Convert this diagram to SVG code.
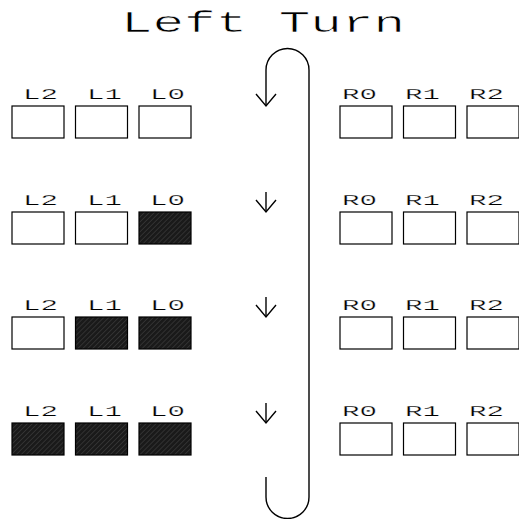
<svg xmlns="http://www.w3.org/2000/svg" width="519" height="519" viewBox="0 0 519 519">
<defs>
<pattern id="hatch" patternUnits="userSpaceOnUse" width="3.5" height="3.5" patternTransform="rotate(45)">
<rect width="3.5" height="3.5" fill="#1a1a1a"/>
<line x1="0" y1="0" x2="0" y2="3.5" stroke="#484848" stroke-width="1"/>
</pattern>
<g id="arrowhead"><path d="M-10,-12 L0,0 L10,-12" fill="none" stroke="#000" stroke-width="1.4"/></g>
</defs>
<style>
.box{fill:#fff;stroke:#000;stroke-width:1.2}
.on{fill:url(#hatch);stroke:#000;stroke-width:1.2}
.lbl{font-family:"Liberation Mono","DejaVu Sans Mono",monospace;font-size:15px;fill:#000;stroke:#fff;stroke-width:0.25px}
.title{font-family:"Liberation Mono","DejaVu Sans Mono",monospace;font-size:30px;fill:#000;stroke:#fff;stroke-width:0.6px}
.ln{fill:none;stroke:#000;stroke-width:1.4}
</style>
<rect width="519" height="519" fill="#fff"/>
<text class="title" x="121" y="32" textLength="284" lengthAdjust="spacingAndGlyphs">Left Turn</text>

<g id="connectors">
<path class="ln" d="M266,106 L266,70 A21.5,21.5 0 0 1 309,70 L309,497 A21.5,21.5 0 0 1 266,497 L266,477"/>
<use href="#arrowhead" x="266" y="106"/>
<line class="ln" x1="266" y1="192" x2="266" y2="212"/>
<use href="#arrowhead" x="266" y="212"/>
<line class="ln" x1="266" y1="297" x2="266" y2="317"/>
<use href="#arrowhead" x="266" y="317"/>
<line class="ln" x1="266" y1="403" x2="266" y2="423"/>
<use href="#arrowhead" x="266" y="423"/>
</g>

<g id="row1">
<g id="r1-L2"><text class="lbl" x="23" y="99" textLength="35" lengthAdjust="spacingAndGlyphs">L2</text><rect class="box" x="12" y="106" width="52" height="32"/></g>
<g id="r1-L1"><text class="lbl" x="87" y="99" textLength="35" lengthAdjust="spacingAndGlyphs">L1</text><rect class="box" x="75.5" y="106" width="52" height="32"/></g>
<g id="r1-L0"><text class="lbl" x="150" y="99" textLength="35" lengthAdjust="spacingAndGlyphs">L0</text><rect class="box" x="139" y="106" width="52" height="32"/></g>
<g id="r1-R0"><text class="lbl" x="342" y="99" textLength="35" lengthAdjust="spacingAndGlyphs">R0</text><rect class="box" x="340" y="106" width="52" height="32"/></g>
<g id="r1-R1"><text class="lbl" x="405" y="99" textLength="35" lengthAdjust="spacingAndGlyphs">R1</text><rect class="box" x="403.5" y="106" width="52" height="32"/></g>
<g id="r1-R2"><text class="lbl" x="469" y="99" textLength="35" lengthAdjust="spacingAndGlyphs">R2</text><rect class="box" x="467" y="106" width="52" height="32"/></g>
</g>

<g id="row2">
<g id="r2-L2"><text class="lbl" x="23" y="205" textLength="35" lengthAdjust="spacingAndGlyphs">L2</text><rect class="box" x="12" y="212" width="52" height="32"/></g>
<g id="r2-L1"><text class="lbl" x="87" y="205" textLength="35" lengthAdjust="spacingAndGlyphs">L1</text><rect class="box" x="75.5" y="212" width="52" height="32"/></g>
<g id="r2-L0"><text class="lbl" x="150" y="205" textLength="35" lengthAdjust="spacingAndGlyphs">L0</text><rect class="on" x="139" y="212" width="52" height="32"/></g>
<g id="r2-R0"><text class="lbl" x="342" y="205" textLength="35" lengthAdjust="spacingAndGlyphs">R0</text><rect class="box" x="340" y="212" width="52" height="32"/></g>
<g id="r2-R1"><text class="lbl" x="405" y="205" textLength="35" lengthAdjust="spacingAndGlyphs">R1</text><rect class="box" x="403.5" y="212" width="52" height="32"/></g>
<g id="r2-R2"><text class="lbl" x="469" y="205" textLength="35" lengthAdjust="spacingAndGlyphs">R2</text><rect class="box" x="467" y="212" width="52" height="32"/></g>
</g>

<g id="row3">
<g id="r3-L2"><text class="lbl" x="23" y="310" textLength="35" lengthAdjust="spacingAndGlyphs">L2</text><rect class="box" x="12" y="317" width="52" height="32"/></g>
<g id="r3-L1"><text class="lbl" x="87" y="310" textLength="35" lengthAdjust="spacingAndGlyphs">L1</text><rect class="on" x="75.5" y="317" width="52" height="32"/></g>
<g id="r3-L0"><text class="lbl" x="150" y="310" textLength="35" lengthAdjust="spacingAndGlyphs">L0</text><rect class="on" x="139" y="317" width="52" height="32"/></g>
<g id="r3-R0"><text class="lbl" x="342" y="310" textLength="35" lengthAdjust="spacingAndGlyphs">R0</text><rect class="box" x="340" y="317" width="52" height="32"/></g>
<g id="r3-R1"><text class="lbl" x="405" y="310" textLength="35" lengthAdjust="spacingAndGlyphs">R1</text><rect class="box" x="403.5" y="317" width="52" height="32"/></g>
<g id="r3-R2"><text class="lbl" x="469" y="310" textLength="35" lengthAdjust="spacingAndGlyphs">R2</text><rect class="box" x="467" y="317" width="52" height="32"/></g>
</g>

<g id="row4">
<g id="r4-L2"><text class="lbl" x="23" y="416" textLength="35" lengthAdjust="spacingAndGlyphs">L2</text><rect class="on" x="12" y="423" width="52" height="32"/></g>
<g id="r4-L1"><text class="lbl" x="87" y="416" textLength="35" lengthAdjust="spacingAndGlyphs">L1</text><rect class="on" x="75.5" y="423" width="52" height="32"/></g>
<g id="r4-L0"><text class="lbl" x="150" y="416" textLength="35" lengthAdjust="spacingAndGlyphs">L0</text><rect class="on" x="139" y="423" width="52" height="32"/></g>
<g id="r4-R0"><text class="lbl" x="342" y="416" textLength="35" lengthAdjust="spacingAndGlyphs">R0</text><rect class="box" x="340" y="423" width="52" height="32"/></g>
<g id="r4-R1"><text class="lbl" x="405" y="416" textLength="35" lengthAdjust="spacingAndGlyphs">R1</text><rect class="box" x="403.5" y="423" width="52" height="32"/></g>
<g id="r4-R2"><text class="lbl" x="469" y="416" textLength="35" lengthAdjust="spacingAndGlyphs">R2</text><rect class="box" x="467" y="423" width="52" height="32"/></g>
</g>
</svg>
